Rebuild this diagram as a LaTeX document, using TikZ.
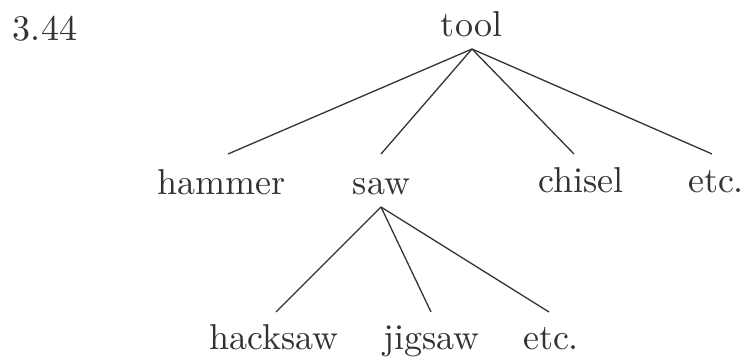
\documentclass[tikz,border=0pt]{standalone}
\usepackage{fontspec}
\setmainfont{lmroman10-regular}[Extension=.otf]
\usetikzlibrary{calc}
\definecolor{ink}{HTML}{333333}
\begin{document}
\begin{tikzpicture}[x=1pt,y=1pt,
  lbl/.style={anchor=base,inner sep=0pt,text=ink,font=\fontsize{36}{40}\selectfont},
  edge/.style={draw=ink,line width=1.3pt}]
\useasboundingbox (0,0) rectangle (746,358);
\node[lbl] (num) at (45,317) {3.44};
\node[lbl] (tool) at (471.5,321) {tool};
\node[lbl] (hammer) at (222,163) {hammer};
\node[lbl] (saw) at (381.5,163) {saw};
\node[lbl] (chisel) at (581,165) {chisel};
\node[lbl] (etc1) at (716,165) {etc.};
\node[lbl] (hacksaw) at (274,8) {hacksaw};
\node[lbl] (jigsaw) at (431.5,8) {jigsaw};
\node[lbl] (etc2) at (551,8) {etc.};
\coordinate (tp) at ($(tool.base)+(0.5,-12)$);
\coordinate (sp) at ($(saw.base)+(-0.5,-12)$);
\draw[edge] (tp) -- ($(hammer.base)+(6,41)$);
\draw[edge] (tp) -- ($(saw.base)+(-0.5,41)$);
\draw[edge] (tp) -- ($(chisel.base)+(-7,39)$);
\draw[edge] (tp) -- ($(etc1.base)+(-4,39)$);
\draw[edge] (sp) -- ($(hacksaw.base)+(2,38)$);
\draw[edge] (sp) -- ($(jigsaw.base)+(-0.5,38)$);
\draw[edge] (sp) -- ($(etc2.base)+(-2,38)$);
\end{tikzpicture}
\end{document}
